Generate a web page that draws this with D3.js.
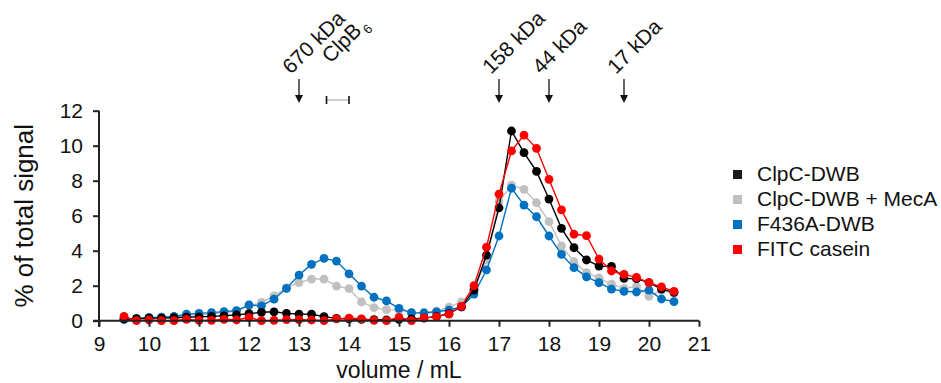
<!DOCTYPE html>
<html>
<head>
<meta charset="utf-8">
<script src="https://cdn.jsdelivr.net/npm/d3@7"></script>
<style>
  body { margin: 0; background: #fff; }
  text { font-family: "Liberation Sans", Arial, sans-serif; fill: #111; }
</style>
</head>
<body>
<div id="chart"></div>
<script>
// elution volumes, 9.5 to 20.5 mL in 0.25 mL fractions
const volumes = [9.5, 9.75, 10, 10.25, 10.5, 10.75, 11, 11.25, 11.5, 11.75, 12, 12.25, 12.5, 12.75,
  13, 13.25, 13.5, 13.75, 14, 14.25, 14.5, 14.75, 15, 15.25, 15.5, 15.75, 16, 16.25, 16.5, 16.75,
  17, 17.25, 17.5, 17.75, 18, 18.25, 18.5, 18.75, 19, 19.25, 19.5, 19.75, 20, 20.25, 20.5];

const clpcDWB = [0.1, 0.12, 0.15, 0.15, 0.17, 0.2, 0.22, 0.25, 0.28, 0.33, 0.4, 0.48, 0.51, 0.42,
  0.38, 0.37, 0.23, 0.13, 0.1, 0.08, 0.06, 0.05, 0.08, 0.1, 0.15, 0.25, 0.4, 0.8, 1.75, 3.75,
  6.45, 10.84, 9.6, 8.53, 6.95, 5.28, 4.17, 3.47, 3.12, 3.1, 2.42, 2.4, 2.18, 1.8, 1.62];

const clpcDWBMecA = [0.05, 0.1, 0.15, 0.18, 0.22, 0.3, 0.35, 0.4, 0.45, 0.55, 0.85, 1.05, 1.42, 1.87,
  2.18, 2.38, 2.38, 1.98, 1.83, 1.07, 0.75, 0.63, 0.62, 0.44, 0.47, 0.55, 0.78, 1.08, 1.8, 3.47,
  6.8, 7.75, 7.51, 6.74, 5.66, 4.27, 3.37, 2.75, 2.45, 2.09, 1.85, 1.95, 1.39, 1.75, 1.56];

const f436aDWB = [0.08, 0.12, 0.19, 0.2, 0.25, 0.37, 0.42, 0.46, 0.52, 0.58, 0.9, 0.85, 1.23, 1.85,
  2.61, 3.22, 3.56, 3.41, 2.68, 1.98, 1.34, 1.13, 0.7, 0.46, 0.44, 0.51, 0.61, 0.78, 1.52, 2.9,
  4.84, 7.57, 6.61, 5.94, 4.84, 3.79, 3.03, 2.51, 2.17, 1.8, 1.68, 1.64, 1.75, 1.24, 1.09];

const fitcCasein = [0.25, 0, 0.04, 0, 0, 0.08, 0.02, 0.02, 0.08, 0.04, 0.18, 0, 0.02, 0.06,
  0.06, 0.04, 0, 0.1, 0.15, 0.1, 0.02, 0, 0.19, 0.01, 0.16, 0.22, 0.38, 0.82, 2.0, 4.2,
  7.23, 9.7, 10.61, 9.85, 8.08, 6.33, 4.94, 4.86, 3.52, 2.84, 2.65, 2.48, 2.17, 1.93, 1.68];

const seriesNames = ['ClpC-DWB', 'ClpC-DWB + MecA', 'F436A-DWB', 'FITC casein'];
const seriesColors = ['#000000', '#c0c0c0', '#0070c0', '#ff0000'];

// size markers along the top
const markerLabels = ['670 kDa', '158 kDa', '44 kDa', '17 kDa'];
const markerVolumes = [13.0, 17.0, 18.0, 19.5];
const clpbRange = [13.55, 14.0];

const xTicks = d3.range(9, 22, 1);
const yTicks = d3.range(0, 13, 2);

const width = 941;
const height = 383;

const svg = d3.select('#chart')
  .append('svg')
  .attr('width', width)
  .attr('height', height);

const x = d3.scaleLinear()
  .domain([9, 21])
  .range([99, 699]);

const y = d3.scaleLinear()
  .domain([0, 12])
  .range([320.7, 110.7]);

const allSeries = [clpcDWB, clpcDWBMecA, f436aDWB, fitcCasein];
// draw order: grey and blue under, black, red on top
const drawOrder = [1, 2, 0, 3];

const line = d3.line()
  .x((d, i) => x(volumes[i]))
  .y(d => y(d));

drawOrder.forEach(k => {
  const g = svg.append('g');
  g.append('path')
    .attr('d', line(allSeries[k]))
    .attr('fill', 'none')
    .attr('stroke', seriesColors[k])
    .attr('stroke-width', 1.4);
  g.selectAll('circle')
    .data(allSeries[k])
    .enter()
    .append('circle')
    .attr('cx', (d, i) => x(volumes[i]))
    .attr('cy', d => y(d))
    .attr('r', 4.4)
    .attr('fill', seriesColors[k]);
});

// axes
const xAxis = svg.append('g')
  .attr('transform', `translate(0,${y(0)})`)
  .call(d3.axisBottom(x).tickValues(xTicks).tickSize(6).tickPadding(9).tickFormat(d3.format('d')));

const yAxis = svg.append('g')
  .attr('transform', `translate(${x(9)},0)`)
  .call(d3.axisLeft(y).tickValues(yTicks).tickSize(6).tickPadding(10));

[xAxis, yAxis].forEach(a => {
  a.select('.domain').attr('stroke', '#222').attr('stroke-width', 2);
  a.selectAll('.tick line').attr('stroke', '#222').attr('stroke-width', 2);
  a.selectAll('.tick text')
    .style('font-family', '"Liberation Sans", Arial, sans-serif')
    .style('font-size', '21px')
    .attr('fill', '#111');
});
// x axis line reaches left across the y axis, like the original
xAxis.select('.domain').attr('d', `M${x(9) - 6},0H${x(21)}`);
yAxis.select('.domain').attr('d', `M0,${y(12)}V${y(0) + 6}`);

svg.append('text')
  .attr('x', x(15))
  .attr('y', 378)
  .attr('text-anchor', 'middle')
  .style('font-size', '23px')
  .text('volume / mL');

svg.append('text')
  .attr('transform', `translate(33,${y(6)}) rotate(-90)`)
  .attr('text-anchor', 'middle')
  .style('font-size', '26px')
  .text('% of total signal');

// size marker arrows and labels
const arrowTop = 79;
const arrowBottom = 103;
markerVolumes.forEach((v, i) => {
  const ax = x(v);
  svg.append('line')
    .attr('x1', ax).attr('x2', ax)
    .attr('y1', arrowTop).attr('y2', arrowBottom - 6)
    .attr('stroke', '#111').attr('stroke-width', 1.3);
  svg.append('path')
    .attr('d', `M${ax - 4},${arrowBottom - 8}L${ax + 4},${arrowBottom - 8}L${ax},${arrowBottom}Z`)
    .attr('fill', '#111');
  svg.append('text')
    .attr('transform', `translate(${ax - 8},${arrowTop - 4}) rotate(-45)`)
    .style('font-size', '21px')
    .text(markerLabels[i]);
});

// ClpB6 label and dotted bracket
const clpbText = svg.append('text')
  .attr('transform', `translate(${x(clpbRange[0]) + 4},${arrowTop - 15}) rotate(-45)`)
  .style('font-size', '21px');
clpbText.append('tspan').text('ClpB');
clpbText.append('tspan').attr('dx', 2).attr('dy', 6).style('font-size', '13px').text('6');

const by = 100;
svg.append('line')
  .attr('x1', x(clpbRange[0])).attr('x2', x(clpbRange[1]))
  .attr('y1', by).attr('y2', by)
  .attr('stroke', '#333').attr('stroke-width', 1).attr('stroke-dasharray', '1,1');
clpbRange.forEach(v => {
  svg.append('line')
    .attr('x1', x(v)).attr('x2', x(v))
    .attr('y1', by - 4).attr('y2', by + 4)
    .attr('stroke', '#111').attr('stroke-width', 1.6);
});

// legend
const legend = svg.append('g')
  .attr('transform', 'translate(733,170)');

seriesNames.forEach((name, i) => {
  const row = legend.append('g')
    .attr('transform', `translate(0,${i * 25})`);
  row.append('rect')
    .attr('width', 9)
    .attr('height', 9)
    .attr('fill', seriesColors[i] === '#000000' ? '#1a1a1a' : seriesColors[i]);
  row.append('text')
    .attr('x', 24)
    .attr('y', 10.5)
    .style('font-size', '21px')
    .text(name);
});
</script>
</body>
</html>
